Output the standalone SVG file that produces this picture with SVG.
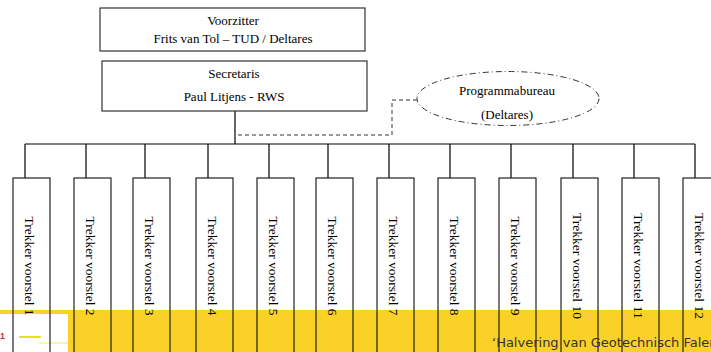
<svg xmlns="http://www.w3.org/2000/svg" width="711" height="352" viewBox="0 0 711 352">
<style>
.box{fill:#fff;stroke:#333;stroke-width:1.2}
.tbox{fill:none;stroke:#222;stroke-width:1.2}
.t{font-family:"Liberation Serif","Times New Roman",serif;font-size:13px;fill:#000;text-anchor:middle}
.rt{font-family:"Liberation Serif","Times New Roman",serif;font-size:13.5px;fill:#000;text-anchor:middle}
.line{stroke:#000;fill:none;stroke-width:1.2}
</style>
<rect x="0" y="0" width="711" height="352" fill="#fff"/>
<rect id="band" x="0" y="310" width="711" height="42" fill="#FAD126"/>
<g id="logo">
<rect x="0" y="314" width="68" height="38" fill="#fff"/>
<text x="0" y="339" font-family="Liberation Sans,Arial,sans-serif" font-size="9" font-weight="bold" fill="#C8305A">1</text>
<line x1="19" y1="337" x2="41" y2="337" stroke="#E6E21E" stroke-width="2"/>
<line x1="39" y1="343" x2="68" y2="343" stroke="#EDEA6A" stroke-width="1"/>
</g>
<g id="connectors">
<line class="line" x1="235" y1="111" x2="235" y2="144" stroke-width="2.2"/>
<line class="line" x1="25" y1="144" x2="695" y2="144" stroke-width="1.8"/>
<path class="line" d="M25,144V178M86,144V178M145,144V178M208,144V178M269,144V178M328,144V178M389,144V178M450,144V178M511,144V178M573,144V178M634,144V178M695,144V178"/>
<path d="M238,135H392V100H417" fill="none" stroke="#333" stroke-width="1" stroke-dasharray="4,3"/>
</g>
<g id="voorzitter">
<rect class="box" x="100" y="8" width="265" height="43"/>
<text class="t" x="233" y="25">Voorzitter</text>
<text class="t" x="233" y="43">Frits van Tol – TUD / Deltares</text>
</g>
<g id="secretaris">
<rect class="box" x="102" y="61" width="265" height="50"/>
<text class="t" x="234" y="78">Secretaris</text>
<text class="t" x="234" y="101">Paul Litjens - RWS</text>
</g>
<g id="programmabureau">
<ellipse cx="508" cy="98.5" rx="91" ry="27" fill="#fff" stroke="#333" stroke-width="1" stroke-dasharray="6,3,1,3"/>
<text class="t" x="507" y="95">Programmabureau</text>
<text class="t" x="507" y="119">(Deltares)</text>
</g>
<g id="trekker1"><rect class="tbox" x="13" y="178" width="37" height="190"/><text class="rt" transform="translate(25,266) rotate(90)">Trekker voorstel 1</text></g>
<g id="trekker2"><rect class="tbox" x="74" y="178" width="37" height="190"/><text class="rt" transform="translate(86,266) rotate(90)">Trekker voorstel 2</text></g>
<g id="trekker3"><rect class="tbox" x="133" y="178" width="37" height="190"/><text class="rt" transform="translate(145,266) rotate(90)">Trekker voorstel 3</text></g>
<g id="trekker4"><rect class="tbox" x="196" y="178" width="37" height="190"/><text class="rt" transform="translate(208,266) rotate(90)">Trekker voorstel 4</text></g>
<g id="trekker5"><rect class="tbox" x="257" y="178" width="37" height="190"/><text class="rt" transform="translate(269,266) rotate(90)">Trekker voorstel 5</text></g>
<g id="trekker6"><rect class="tbox" x="316" y="178" width="37" height="190"/><text class="rt" transform="translate(328,266) rotate(90)">Trekker voorstel 6</text></g>
<g id="trekker7"><rect class="tbox" x="377" y="178" width="37" height="190"/><text class="rt" transform="translate(389,266) rotate(90)">Trekker voorstel 7</text></g>
<g id="trekker8"><rect class="tbox" x="438" y="178" width="37" height="190"/><text class="rt" transform="translate(450,266) rotate(90)">Trekker voorstel 8</text></g>
<g id="trekker9"><rect class="tbox" x="499" y="178" width="37" height="190"/><text class="rt" transform="translate(511,266) rotate(90)">Trekker voorstel 9</text></g>
<g id="trekker10"><rect class="tbox" x="561" y="178" width="37" height="190"/><text class="rt" transform="translate(573,266) rotate(90)">Trekker voorstel 10</text></g>
<g id="trekker11"><rect class="tbox" x="622" y="178" width="37" height="190"/><text class="rt" transform="translate(634,266) rotate(90)">Trekker voorstel 11</text></g>
<g id="trekker12"><rect class="tbox" x="683" y="178" width="37" height="190"/><text class="rt" transform="translate(695,266) rotate(90)">Trekker voorstel 12</text></g>
<text id="footer" x="492" y="347" font-family="DejaVu Sans,Verdana,sans-serif" font-size="13" fill="#333">‘Halvering van Geotechnisch Falen’</text>
</svg>
